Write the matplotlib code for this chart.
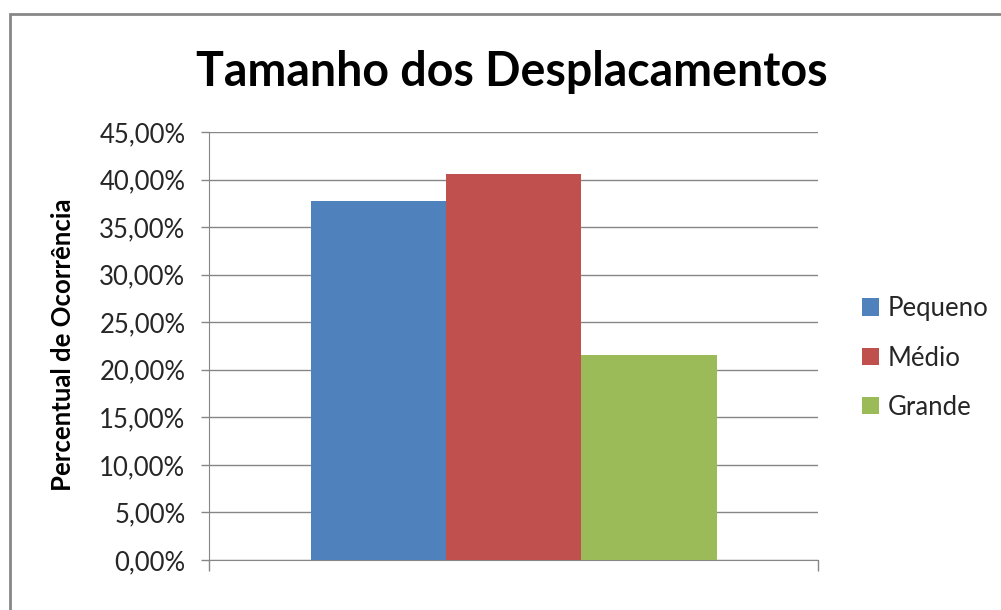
import matplotlib.pyplot as plt
from matplotlib.patches import Rectangle
from matplotlib.ticker import FuncFormatter

# data
categorias = ['Pequeno', 'Médio', 'Grande']
percentuais = [37.75, 40.6, 21.55]
cores = ['#4F81BD', '#C0504D', '#9BBB59']
yticks = [0, 5, 10, 15, 20, 25, 30, 35, 40, 45]

plt.rcParams['font.family'] = ['Lato', 'DejaVu Sans']

fig = plt.figure(figsize=(10.01, 6.10), dpi=100)

# outer chart frame (Excel style)
fig.patches.append(Rectangle((10 / 1001, -0.1), 1.1, 1 - 14 / 610 + 0.1,
                             transform=fig.transFigure, fill=False,
                             edgecolor='#878787', lw=2))

ax = fig.add_axes([209 / 1001, 50 / 610, 609 / 1001, 428 / 610])

# one category with three series, gap width 150%
w = 1 / 4.5
for i, (nome, v, c) in enumerate(zip(categorias, percentuais, cores)):
    ax.bar(0.5 + (i - 1) * w, v, width=w, color=c, label=nome, zorder=3)

ax.set_xlim(0, 1)
ax.set_ylim(0, 45)
ax.set_yticks(yticks)
ax.yaxis.set_major_formatter(FuncFormatter(lambda v, p: f'{v:.2f}%'.replace('.', ',')))
ax.grid(axis='y', color='#868686', lw=1, zorder=0)
ax.set_xticks([0, 1])
ax.set_xticklabels(['', ''])
ax.tick_params(axis='x', length=8, color='#868686', width=1, direction='out')
ax.tick_params(axis='y', length=6, color='#868686', width=1, labelsize=18.5,
               labelcolor='#262626', pad=11)

for s in ['top', 'right']:
    ax.spines[s].set_visible(False)
ax.spines['left'].set_color('#868686')
ax.spines['bottom'].set_color('#868686')

fig.text(63 / 1001, 1 - 345 / 610, 'Percentual de Ocorrência', fontsize=18.5,
         fontweight='bold', rotation=90, ha='center', va='center')
fig.text(512 / 1001, 1 - 72 / 610, 'Tamanho dos Desplacamentos', fontsize=33.5,
         fontweight='bold', ha='center', va='center')

ax.legend(loc='center left', bbox_to_anchor=(862 / 1001, 1 - 358 / 610),
          bbox_transform=fig.transFigure, frameon=False, fontsize=18.5,
          borderpad=0, borderaxespad=0, labelcolor='#262626',
          handlelength=0.65, handleheight=0.65, handletextpad=0.35, labelspacing=0.95)

fig.savefig('out.png', dpi=100)
